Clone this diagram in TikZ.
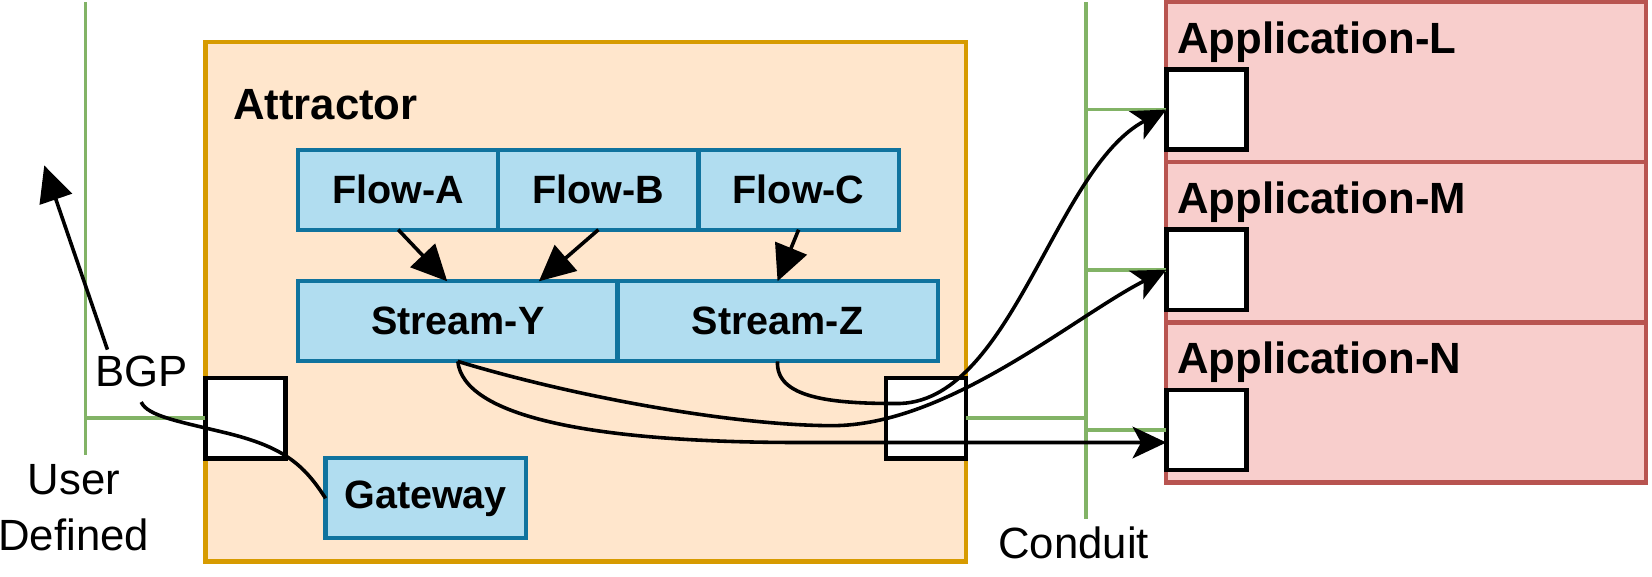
\documentclass[tikz,border=0pt]{standalone}
\usepackage{fontspec}
\setmainfont{Liberation Sans}
\usetikzlibrary{arrows.meta, positioning}
\definecolor{attrfill}{HTML}{FFE6CC}
\definecolor{attrline}{HTML}{D79B00}
\definecolor{flowfill}{HTML}{B1DDF0}
\definecolor{flowline}{HTML}{10739E}
\definecolor{appfill}{HTML}{F8CECC}
\definecolor{appline}{HTML}{B85450}
\definecolor{wire}{HTML}{82B366}
\tikzset{
    flowbox/.style={draw=flowline, fill=flowfill, line width=4pt, outer sep=0pt, inner sep=0pt,
        minimum height=76pt, font=\bfseries\fontsize{37.5}{45}\selectfont},
    appbox/.style={draw=appline, fill=appfill, line width=4pt, outer sep=0pt,
        minimum width=455pt, minimum height=152pt},
    portbox/.style={draw, fill=white, line width=4.2pt, outer sep=0pt, inner sep=0pt, minimum size=76pt},
    titletext/.style={font=\bfseries\fontsize{41.5}{50}\selectfont, inner sep=0pt, anchor=base west},
    labeltext/.style={font=\fontsize{41.5}{53}\selectfont, inner sep=2pt, align=center},
    wireline/.style={draw=wire, line width=3.4pt},
    blockarrow/.style={line width=3.4pt, -{Triangle[length=34pt, width=32pt]}},
    openarrow/.style={line width=3.4pt, -{Stealth[length=32pt, width=30pt, inset=8pt]}},
    bareline/.style={line width=3.4pt}
}
\begin{document}
\begin{tikzpicture}[x=1pt, y=-1pt]
    \useasboundingbox (0,0) rectangle (1568,547);
    \def\lw{4pt}
    \node[draw=attrline, fill=attrfill, line width=\lw, minimum width=722pt, minimum height=493pt] (attractor) at (556,286.5) {};
    \node[titletext] (attrTitle) at (221,113.5) {Attractor};
    % network lines
    \coordinate (userTop) at (81,2);
    \coordinate (userEnd) at (81,432);
    \coordinate (conduitTop) at (1031,2);
    \coordinate (conduitEnd) at (1031,493);
    \draw[wireline] (userTop) -- (userEnd);
    \draw[wireline] (conduitTop) -- (conduitEnd);
    \node[flowbox, minimum width=190pt] (flowA) at (378,180) {Flow-A};
    \node[flowbox, minimum width=190pt, right=0pt of flowA] (flowB) {Flow-B};
    \node[flowbox, minimum width=190pt, right=0pt of flowB] (flowC) {Flow-C};
    \node[flowbox, minimum width=303pt] (streamY) at (434.5,305) {Stream-Y};
    \node[flowbox, minimum width=304pt, right=0pt of streamY] (streamZ) {Stream-Z};
    \node[flowbox, minimum width=190pt] (gateway) at (404,473) {Gateway};
    \node[portbox] (inPort) at (233,397) {};
    \node[portbox] (outPort) at (879,397) {};
    \draw[wireline] (inPort.west) -- (inPort.west -| userTop);
    \draw[wireline] (outPort.east) -- (outPort.east -| conduitTop);
    \node[appbox] (appL) at (1334.5,78) {};
    \node[appbox, below=0pt of appL] (appM) {};
    \node[appbox, below=0pt of appM] (appN) {};
    \foreach \a in {L,M,N}{
        \node[titletext] (title\a) at ([shift={(10pt,-48.5pt)}]app\a.north west) {Application-\a};
        \node[portbox, anchor=west] (port\a) at ([yshift=-26pt]app\a.west) {};
        \draw[wireline] (port\a.west -| conduitTop) -- (port\a.west);
    }
    \node[labeltext, anchor=base] (bgp) at (134,367) {BGP};
    \node[labeltext] (userDef) at (70,482) {User\\Defined};
    \node[labeltext, anchor=base] (conduit) at (1019,530) {Conduit};
    \draw[blockarrow] (flowA.south) -- ([xshift=-10pt]streamY.north);
    \draw[blockarrow] (flowB.south) -- ([xshift=77pt]streamY.north);
    \draw[blockarrow] (flowC.south) -- (streamZ.north);
    \coordinate (bgpTip) at (42,157);
    \draw[blockarrow] ([shift={(14pt,4pt)}]bgp.north west) -- (bgpTip);
    \draw[bareline] (gateway.west) .. controls (288,440) and (268,424) .. (215,411) .. controls (170,400) and (140,395) .. ([yshift=-12pt]bgp.south);
    \coordinate (nIn) at ([yshift=-12pt]portN.west);
    \draw[openarrow] (streamZ.south) .. controls (736,378) and (790,383) .. (850,383) .. controls (960,385) and (1000,160) .. (portL.west);
    \draw[openarrow] (streamY.south) .. controls (550,378) and (700,404) .. (790,404) .. controls (900,404) and (1020,300) .. (portM.west);
    \draw[openarrow] (streamY.south) .. controls (440,395) and (560,420) .. (760,420) -- (nIn);
\end{tikzpicture}
\end{document}
